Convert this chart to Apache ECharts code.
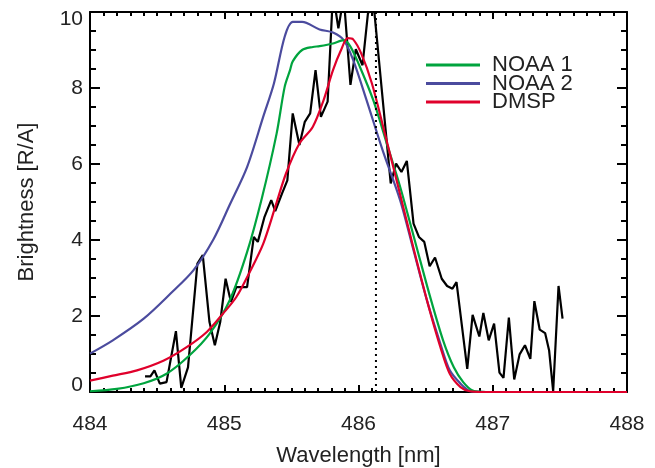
<!DOCTYPE html>
<html>
<head>
<meta charset="utf-8">
<script src="https://cdn.jsdelivr.net/npm/echarts@6/dist/echarts.min.js"></script>
<style>html,body{margin:0;padding:0;background:#fff;}#c{width:655px;height:468px;}</style>
</head>
<body>
<div id="c"></div>
<script>
// Observed spectrum (black): [wavelength nm, brightness R/A]
const observed = [
  [484.41,0.41],[484.45,0.41],[484.48,0.57],[484.52,0.22],[484.57,0.26],[484.64,1.60],[484.68,0.11],
  [484.73,0.65],[484.80,3.38],[484.84,3.60],[484.89,1.84],[484.93,1.23],[484.97,1.84],[485.01,2.98],
  [485.05,2.37],[485.09,2.76],[485.13,2.76],[485.17,2.76],[485.22,4.08],[485.25,3.95],[485.30,4.61],
  [485.35,5.05],[485.38,4.76],[485.43,5.22],[485.47,5.57],[485.51,7.33],[485.56,6.50],[485.60,7.11],
  [485.64,7.33],[485.68,8.47],[485.72,7.24],[485.77,7.64],[485.81,10.5],[485.85,9.57],[485.89,10.4],
  [485.94,8.08],[485.98,9.02],[486.03,8.60],[486.07,9.95],[486.11,10.3],[486.24,5.49],[486.28,6.01],
  [486.32,5.79],[486.36,6.08],[486.41,4.43],[486.45,4.08],[486.49,3.95],[486.53,3.31],[486.57,3.54],
  [486.62,2.98],[486.66,2.79],[486.70,2.72],[486.73,2.89],[486.81,0.61],[486.85,2.03],[486.90,1.46],
  [486.93,2.08],[486.97,1.36],[487.01,1.80],[487.05,0.51],[487.08,0.37],[487.12,1.96],[487.16,0.33],
  [487.20,0.99],[487.24,1.23],[487.28,0.87],[487.31,2.39],[487.35,1.64],[487.39,1.55],[487.42,1.09],
  [487.45,0.02],[487.49,2.79],[487.52,1.93]
];
const noaa1 = [
  [484.00,0.02],[484.20,0.08],[484.40,0.23],[484.57,0.48],[484.74,0.96],[484.89,1.53],[485.04,2.41],
  [485.17,3.68],[485.28,5.10],[485.39,6.80],[485.45,8.03],[485.49,8.47],[485.51,8.70],[485.58,9.00],
  [485.66,9.08],[485.71,9.10],[485.81,9.17],[485.89,9.26],[485.94,9.09],[486.01,8.56],[486.11,7.68],
  [486.21,6.55],[486.31,5.40],[486.43,3.85],[486.53,2.55],[486.63,1.36],[486.71,0.65],[486.78,0.26],
  [486.85,0.04],[486.95,0],[487.5,0],[488.0,0]
];
const noaa2 = [
  [484.00,1.01],[484.17,1.36],[484.40,1.93],[484.60,2.59],[484.77,3.20],[484.92,4.02],[485.04,4.92],
  [485.17,5.92],[485.29,7.24],[485.37,8.12],[485.45,9.35],[485.51,9.74],[485.58,9.74],[485.71,9.54],
  [485.81,9.46],[485.89,9.26],[485.96,8.74],[486.06,7.68],[486.18,6.36],[486.31,5.05],[486.41,3.73],
  [486.51,2.41],[486.61,1.27],[486.68,0.57],[486.76,0.22],[486.83,0.03],[486.95,0],[487.5,0],[488.0,0]
];
const dmsp = [
  [484.00,0.30],[484.17,0.43],[484.35,0.57],[484.55,0.83],[484.72,1.18],[484.87,1.58],[484.99,2.06],
  [485.09,2.50],[485.19,3.16],[485.29,3.90],[485.38,4.87],[485.46,5.75],[485.56,6.54],[485.66,6.98],
  [485.74,7.68],[485.81,8.47],[485.87,9.00],[485.92,9.31],[485.96,9.28],[486.02,8.91],[486.10,8.12],
  [486.20,6.75],[486.31,5.20],[486.43,3.50],[486.53,2.15],[486.61,1.18],[486.68,0.48],[486.76,0.13],
  [486.83,0.02],[486.95,0],[487.5,0],[488.0,0]
];
const hBetaLine = [[486.13,0],[486.13,10]];
const legendNames = ['NOAA 1','NOAA 2','DMSP'];
const xTicks = {min:484, max:488, interval:1};
const yTicks = {min:0, max:10, interval:2};

const FONT = '"Liberation Sans", Arial, Helvetica, sans-serif';
const TXT = '#222';
const chart = echarts.init(document.getElementById('c'), null, {renderer:'canvas'});

function xAx(pos, showLabel){
  return {
    type:'value', position:pos, min:xTicks.min, max:xTicks.max, interval:xTicks.interval,
    name: showLabel ? 'Wavelength [nm]' : '', nameLocation:'middle', nameGap:53,
    nameTextStyle:{fontFamily:FONT, fontSize:22, color:TXT},
    axisLine:{show:true, onZero:false, lineStyle:{color:'#000', width:2}},
    axisTick:{show:true, inside:true, length:7, lineStyle:{color:'#000', width:2}},
    minorTick:{show:true, splitNumber:10, length:4, lineStyle:{color:'#000', width:2}},
    splitLine:{show:false}, minorSplitLine:{show:false},
    axisLabel:{show:showLabel, margin:22, fontFamily:FONT, fontSize:21, color:TXT}
  };
}
function yAx(pos, showLabel){
  return {
    type:'value', position:pos, min:yTicks.min, max:yTicks.max, interval:yTicks.interval,
    name: showLabel ? 'Brightness [R/A]' : '', nameLocation:'middle', nameGap:52, nameRotate:90,
    nameTextStyle:{fontFamily:FONT, fontSize:22, color:TXT},
    axisLine:{show:true, onZero:false, lineStyle:{color:'#000', width:2}},
    axisTick:{show:true, inside:true, length:10, lineStyle:{color:'#000', width:2}},
    minorTick:{show:true, splitNumber:4, length:6, lineStyle:{color:'#000', width:2}},
    splitLine:{show:false}, minorSplitLine:{show:false},
    axisLabel:{show:showLabel, margin:7, fontFamily:FONT, fontSize:21, color:TXT,
      formatter:function(v){ if(v===0) return '{lo|0}'; if(v===10) return '{hi|10}'; return String(v); },
      rich:{
        lo:{fontFamily:FONT, fontSize:21, color:TXT, padding:[0,0,14,0]},
        hi:{fontFamily:FONT, fontSize:21, color:TXT, padding:[14,0,0,0]}
      }}
  };
}

chart.setOption({
  animation:false,
  backgroundColor:'#fff',
  grid:{left:90, right:28, top:12, bottom:76, containLabel:false, outerBoundsMode:'none'},
  xAxis:[xAx('bottom', true), xAx('top', false)],
  yAxis:[yAx('left', true), yAx('right', false)],
  legend:{
    data:legendNames, orient:'vertical', left:421, top:47, icon:'rect',
    itemWidth:54, itemHeight:3, itemGap:-7.5,
    textStyle:{fontFamily:FONT, fontSize:22, color:TXT, lineHeight:18, padding:[0,0,8,7]}
  },
  series:[
    {name:'Observed', type:'line', data:observed, showSymbol:false, symbol:'none',
     lineStyle:{color:'#000', width:2.2}, itemStyle:{color:'#000'}, z:2},
    {name:'NOAA 2', type:'line', data:noaa2, smooth:0.3, showSymbol:false, symbol:'none',
     lineStyle:{color:'#4b4b9e', width:2.2}, itemStyle:{color:'#4b4b9e'}, z:3},
    {name:'NOAA 1', type:'line', data:noaa1, smooth:0.3, showSymbol:false, symbol:'none',
     lineStyle:{color:'#00a43e', width:2.2}, itemStyle:{color:'#00a43e'}, z:4},
    {name:'DMSP', type:'line', data:dmsp, smooth:0.3, showSymbol:false, symbol:'none',
     lineStyle:{color:'#e0002b', width:2.2}, itemStyle:{color:'#e0002b'}, z:5},
    {name:'H-beta', type:'line', data:hBetaLine, showSymbol:false, symbol:'none',
     lineStyle:{color:'#000', width:2, type:[2,4]}, z:6}
  ]
});
</script>
</body>
</html>
